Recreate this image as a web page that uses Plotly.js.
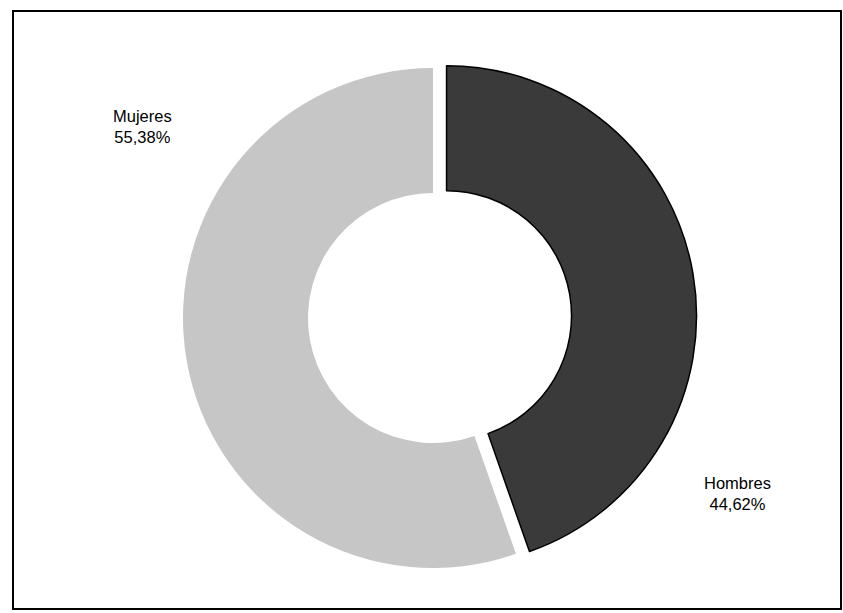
<!DOCTYPE html>
<html>
<head>
<meta charset="utf-8">
<script src="https://cdn.plot.ly/plotly-3.0.1.min.js"></script>
<style>html,body{margin:0;padding:0;background:#fff;}#chart{width:843px;height:613px;}</style>
</head>
<body>
<div id="chart"></div>
<script>
const labels = ["Hombres", "Mujeres"];
const values = [44.62, 55.38];
const colors = ["#3a3a3a", "#c6c6c6"];
const pulls = [0.055, 0];

function fmt(v){ return v.toFixed(2).replace('.', ',') + '%'; }

const W = 843, H = 613;
const labelPos = [{x: 737/W, y: 1 - 494/H}, {x: 142/W, y: 1 - 127/H}];

const trace = {
  type: 'pie',
  labels: labels,
  values: values,
  sort: false,
  direction: 'clockwise',
  rotation: 0,
  hole: 0.5,
  pull: pulls,
  textinfo: 'none',
  hoverinfo: 'label+percent',
  showlegend: false,
  marker: {colors: colors, line: {color: ['#000000', 'rgba(0,0,0,0)'], width: [1.5, 0]}},
  domain: {x: [169.25/W, 696.75/W], y: [31.25/H, 558.75/H]}
};

const annotations = labels.map((l, i) => ({
  xref: 'paper', yref: 'paper', x: labelPos[i].x, y: labelPos[i].y,
  text: l + '<br>' + fmt(values[i]), showarrow: false, align: 'center',
  xanchor: 'center', yanchor: 'middle',
  font: {family: 'Liberation Sans, Arial, sans-serif', size: 16.5, color: '#000'}
}));

const layout = {
  width: W, height: H,
  margin: {l: 0, r: 0, t: 0, b: 0},
  paper_bgcolor: '#ffffff',
  showlegend: false,
  annotations: annotations,
  shapes: [{type: 'rect', xref: 'paper', yref: 'paper', x0: 13/W, x1: 841/W, y0: 1 - 609/H, y1: 1 - 11/H,
            line: {color: '#000', width: 2}}]
};

Plotly.newPlot('chart', [trace], layout, {displayModeBar: false, staticPlot: true});
</script>
</body>
</html>
